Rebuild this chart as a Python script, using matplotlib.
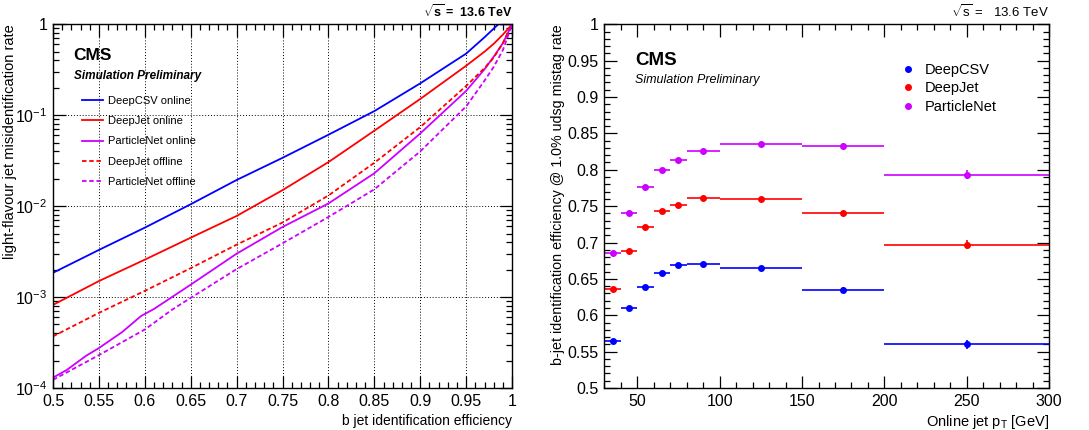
import numpy as np
import matplotlib
matplotlib.use("Agg")
import matplotlib.pyplot as plt
from matplotlib.lines import Line2D
from matplotlib.ticker import MultipleLocator, LogLocator, NullFormatter

plt.rcParams['font.family'] = ['Liberation Sans', 'DejaVu Sans']
plt.rcParams['mathtext.fontset'] = 'custom'
plt.rcParams['mathtext.rm'] = 'Liberation Sans'
plt.rcParams['mathtext.it'] = 'Liberation Sans:italic'
plt.rcParams['mathtext.bf'] = 'Liberation Sans:bold'

BLUE = '#0000ff'
RED = '#ff0000'
MAG = '#cc00ff'

# left: ROC curves (b efficiency vs light mistag)
csv_eff = [0.5, 0.55, 0.6, 0.65, 0.7, 0.75, 0.8, 0.85, 0.9, 0.95, 0.97, 0.985, 1.0]
deepcsv_on = [1.85e-3, 3.3e-3, 5.8e-3, 1.05e-2, 1.94e-2, 3.4e-2, 6.1e-2, 0.111, 0.224, 0.476, 0.72, 1.0, 1.0]

dj_eff = [0.5, 0.55, 0.6, 0.65, 0.7, 0.75, 0.8, 0.85, 0.9, 0.95, 0.97, 0.98, 0.99, 1.0]
deepjet_on = [8.2e-4, 1.5e-3, 2.58e-3, 4.5e-3, 7.8e-3, 1.5e-2, 3.05e-2, 0.0676, 0.151, 0.35, 0.5, 0.61, 0.77, 1.0]
deepjet_off = [3.7e-4, 6.7e-4, 1.17e-3, 2.08e-3, 3.77e-3, 6.6e-3, 1.31e-2, 0.030, 0.074, 0.21, 0.33, 0.43, 0.62, 1.0]

pnet_eff = [0.5, 0.515, 0.536, 0.55, 0.575, 0.596, 0.61, 0.65, 0.7, 0.75, 0.8, 0.85, 0.9, 0.95,
            0.97, 0.98, 0.99, 1.0]
pnet_on = [1.3e-4, 1.58e-4, 2.26e-4, 2.75e-4, 4.1e-4, 6.2e-4, 7.4e-4, 1.37e-3, 3.0e-3, 5.9e-3, 1.07e-2,
           0.023, 0.063, 0.185, 0.32, 0.44, 0.62, 1.0]
pnet_off_eff = [0.5, 0.55, 0.6, 0.63, 0.65, 0.7, 0.75, 0.8, 0.85, 0.9, 0.95, 0.97, 0.98, 0.99, 1.0]
pnet_off = [1.23e-4, 2.3e-4, 4.4e-4, 7.3e-4, 9.8e-4, 2.03e-3, 3.9e-3, 7.6e-3, 0.0153, 0.040, 0.125,
            0.24, 0.34, 0.52, 1.0]

# right: efficiency at 1% mistag vs pT
bin_lo = [30, 40, 50, 60, 70, 80, 100, 150, 200]
bin_hi = [40, 50, 60, 70, 80, 100, 150, 200, 300]
eff_deepcsv = [0.565, 0.610, 0.639, 0.658, 0.669, 0.671, 0.665, 0.635, 0.560]
eff_deepjet = [0.636, 0.689, 0.721, 0.744, 0.752, 0.761, 0.760, 0.740, 0.697]
eff_pnet = [0.686, 0.740, 0.777, 0.799, 0.813, 0.826, 0.835, 0.833, 0.793]
err = [0.001, 0.001, 0.001, 0.001, 0.001, 0.001, 0.0015, 0.0035, 0.006]

fig = plt.figure(figsize=(10.89, 4.30), dpi=100)

def root_style(ax):
    ax.tick_params(which='both', direction='in', top=True, right=True, labelsize=11.5, pad=4)
    ax.tick_params(which='major', length=9, width=0.9)
    ax.tick_params(which='minor', length=4.5, width=0.9)
    for s in ax.spines.values():
        s.set_linewidth(1.0)

# ---- left panel ----
ax1 = fig.add_axes([0.0487, 0.0977, 0.4215, 0.8458])
ax1.plot(csv_eff, deepcsv_on, color=BLUE, lw=1.3, label='DeepCSV online')
ax1.plot(dj_eff, deepjet_on, color=RED, lw=1.3, label='DeepJet online')
ax1.plot(pnet_eff, pnet_on, color=MAG, lw=1.3, label='ParticleNet online')
ax1.plot(dj_eff, deepjet_off, color=RED, lw=1.3, ls=(0, (2.5, 1.5)), label='DeepJet offline')
ax1.plot(pnet_off_eff, pnet_off, color=MAG, lw=1.3, ls=(0, (2.5, 1.5)), label='ParticleNet offline')
ax1.set_yscale('log')
ax1.set_xlim(0.5, 1.0)
ax1.set_ylim(1e-4, 1)
ax1.xaxis.set_minor_locator(MultipleLocator(0.01))
ax1.yaxis.set_minor_locator(LogLocator(base=10, subs=np.arange(2, 10), numticks=20))
ax1.yaxis.set_minor_formatter(NullFormatter())
ax1.set_xticks([0.5, 0.55, 0.6, 0.65, 0.7, 0.75, 0.8, 0.85, 0.9, 0.95, 1.0])
ax1.set_xticklabels(['0.5', '0.55', '0.6', '0.65', '0.7', '0.75', '0.8', '0.85', '0.9', '0.95', '1'])
ax1.set_yticks([1e-4, 1e-3, 1e-2, 1e-1, 1])
ax1.set_yticklabels([r'$10^{-4}$', r'$10^{-3}$', r'$10^{-2}$', r'$10^{-1}$', '1'])
ax1.grid(True, which='major', color='black', ls=(0, (1, 2)), lw=0.7)
root_style(ax1)
ax1.set_xlabel('b jet identification efficiency', fontsize=10, loc='right', labelpad=4)
ax1.set_ylabel('light-flavour jet misidentification rate', fontsize=10.5, loc='top')
ax1.yaxis.set_label_coords(-0.078, 1.0)
ax1.text(0.045, 0.935, 'CMS', transform=ax1.transAxes, fontsize=12.5, fontweight='bold', va='top')
ax1.text(0.045, 0.875, 'Simulation Preliminary', transform=ax1.transAxes, fontsize=8.5,
         fontweight='bold', style='italic', va='top')
ax1.legend(loc='upper left', bbox_to_anchor=(0.042, 0.831), frameon=False, fontsize=8,
           handlelength=1.9, labelspacing=0.93, handletextpad=0.4)
ax1.text(1.0, 1.012, r'$\sqrt{\mathbf{s}}$ =  13.6 TeV', transform=ax1.transAxes, fontsize=9,
         fontweight='bold', ha='right', va='bottom')

# ---- right panel ----
ax2 = fig.add_axes([0.5549, 0.0977, 0.4086, 0.8458])
handles = []
for vals, col, lab in [(eff_deepcsv, BLUE, 'DeepCSV'), (eff_deepjet, RED, 'DeepJet'),
                       (eff_pnet, MAG, 'ParticleNet')]:
    lo = np.array(bin_lo)
    hi = np.array(bin_hi)
    xc = (lo + hi) / 2
    ax2.errorbar(xc, vals, xerr=(hi - lo) / 2, yerr=err, fmt='o', color=col, ms=4,
                 elinewidth=1.2, capsize=0, clip_on=False)
    handles.append(Line2D([], [], ls='none', marker='o', ms=4, color=col, label=lab))
ax2.set_xlim(30, 300)
ax2.set_ylim(0.5, 1.0)
ax2.xaxis.set_major_locator(MultipleLocator(50))
ax2.xaxis.set_minor_locator(MultipleLocator(10))
ax2.yaxis.set_minor_locator(MultipleLocator(0.01))
ax2.set_yticks([0.5, 0.55, 0.6, 0.65, 0.7, 0.75, 0.8, 0.85, 0.9, 0.95, 1.0])
ax2.set_yticklabels(['0.5', '0.55', '0.6', '0.65', '0.7', '0.75', '0.8', '0.85', '0.9', '0.95', '1'])
root_style(ax2)
ax2.set_xlabel(r'Online jet p$_\mathregular{T}$ [GeV]', fontsize=10.5, loc='right', labelpad=3)
ax2.set_ylabel('b-jet identification efficiency @ 1.0% udsg mistag rate', fontsize=10.3, loc='top')
ax2.yaxis.set_label_coords(-0.088, 1.0)
ax2.text(0.07, 0.925, 'CMS', transform=ax2.transAxes, fontsize=13.5, fontweight='bold', va='top')
ax2.text(0.07, 0.862, 'Simulation Preliminary', transform=ax2.transAxes, fontsize=9,
         style='italic', va='top')
ax2.legend(handles=handles, loc='upper left', bbox_to_anchor=(0.634, 0.93), frameon=False,
           fontsize=10.5, handlelength=1.2, labelspacing=0.3, handletextpad=0.5)
ax2.text(1.0, 1.012, r'$\sqrt{\mathregular{s}}$ =   13.6 TeV', transform=ax2.transAxes, fontsize=9.5,
         ha='right', va='bottom')

fig.savefig('out.png', dpi=100)
